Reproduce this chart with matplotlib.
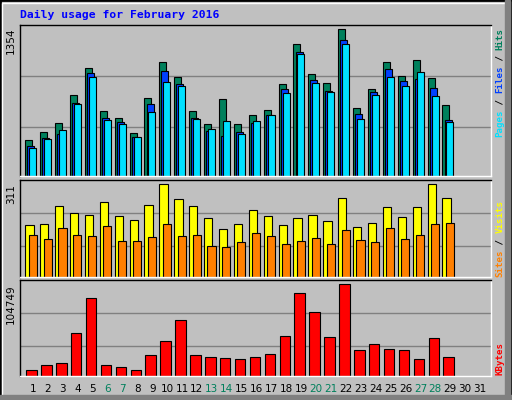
import matplotlib
matplotlib.use("Agg")
import matplotlib.pyplot as plt
from matplotlib.patches import Rectangle
import numpy as np

days = list(range(1, 32))
hits = [333,407,489,747,995,600,535,397,719,1051,913,600,480,710,480,563,609,848,1216,940,857,1354,627,802,1051,922,1069,903,655]
files = [278,351,388,673,949,535,499,361,664,968,848,535,416,370,407,489,563,802,1143,885,784,1253,572,775,986,876,894,811,517]
pages = [259,342,425,664,913,517,480,361,591,867,830,526,434,508,388,508,563,765,1124,857,775,1216,526,747,913,830,959,738,499]
visits = [173,176,237,213,206,250,203,190,243,311,260,237,196,159,176,223,203,173,196,206,186,264,166,180,233,200,233,311,264]
sites = [142,126,163,142,136,169,119,119,132,176,136,139,105,99,116,146,136,109,119,129,109,156,122,116,163,126,142,176,180]
kbytes = [7264,13000,15290,48550,88690,13000,10700,7264,24470,40520,63460,24470,22170,21030,19880,22170,25610,46260,94430,72640,45110,104749,30200,37080,31350,30200,19880,43960,22170]
weekend = [6,7,13,14,20,21,27,28]
max_labels = ["1354", "311", "104749"]

W, H = 512, 400
fig = plt.figure(figsize=(W/100, H/100), dpi=100)
fig.patch.set_facecolor("#C0C0C0")
def fr(x, y): return x / W, 1 - y / H
fig.patches.append(Rectangle((0, 0), 1, 1, transform=fig.transFigure, fill=False, ec="black", lw=2))
fig.patches.append(Rectangle(fr(2, 397), 506/W, 394/H, transform=fig.transFigure, fill=False, ec="white", lw=1))
fig.patches.append(Rectangle((505/W, 0), 5/W, 1, transform=fig.transFigure, color="#808080"))
fig.patches.append(Rectangle((0, 0), 1, 5/H, transform=fig.transFigure, color="#808080"))

fig.text(*fr(20, 15), "Daily usage for February 2016", color="#0000FF", family="DejaVu Sans Mono",
         weight="bold", fontsize=8.2, va="center", ha="left")

x0, x1 = 20, 491
xl = (1 - 13/14.9, 1 + 458/14.9)
d = np.arange(1, len(hits) + 1)

def panel(top, base, vmax, vtop):
    ax = fig.add_axes([x0/W, 1 - base/H, (x1-x0)/W, (base-top)/H])
    ax.set_facecolor("#C0C0C0")
    scale = vmax / (base - vtop)
    ax.set_ylim(0, (base - top) * scale)
    ax.set_xlim(*xl)
    ax.set_xticks([]); ax.set_yticks([])
    for s in ["left", "top"]:
        ax.spines[s].set_color("black")
    for s in ["right", "bottom"]:
        ax.spines[s].set_color("white")
    for s in ax.spines.values(): s.set_linewidth(1)
    return ax

ax1 = panel(25, 176.5, 1354, 29.3)
for yp in [76, 127]:
    ax1.axhline((176.5 - yp) * 1354 / (176.5 - 29.3), color="#808080", lw=1, zorder=0)
ax1.bar(d - 0.52, hits, width=0.47, align="edge", color="#00805C", ec="black", lw=0.8)
ax1.bar(d - 0.38, files, width=0.47, align="edge", color="#0040FF", ec="black", lw=0.8)
ax1.bar(d - 0.25, pages, width=0.47, align="edge", color="#00E0FF", ec="black", lw=0.8)

ax2 = panel(180, 276.7, 311, 184.3)
for yp in [213.3, 246.3]:
    ax2.axhline((276.7 - yp) * 311 / (276.7 - 184.3), color="#808080", lw=1, zorder=0)
ax2.bar(d - 0.52, visits, width=0.56, align="edge", color="#FFFF00", ec="black", lw=0.8)
ax2.bar(d - 0.29, sites, width=0.54, align="edge", color="#FF8000", ec="black", lw=0.8)

ax3 = panel(280, 376, 104749, 284.3)
for yp in [313.3, 346]:
    ax3.axhline((376 - yp) * 104749 / (376 - 284.3), color="#808080", lw=1, zorder=0)
ax3.bar(d - 0.45, kbytes, width=0.7, align="edge", color="#FF0000", ec="black", lw=0.8)

for k in days:
    px = 33 + 14.9 * (k - 1)
    fig.text(*fr(px, 389), str(k), ha="center", va="center", fontsize=7.5,
             color="#00805C" if k in weekend else "black")

for lab, yp in zip(max_labels, [28, 184, 284]):
    fig.text(*fr(11, yp), lab, rotation=90, ha="center", va="top", fontsize=7.5, color="black")

def side(pieces, ybottom, cw=5.45):
    y = ybottom
    for txt, col in pieces:
        fig.text(*fr(500, y), txt, rotation=90, ha="center", va="bottom", family="DejaVu Sans Mono",
                 fontsize=6.6, weight="bold", color=col)
        y -= len(txt) * cw

side([("Pages", "#00E0FF"), (" / ", "black"), ("Files", "#0040FF"), (" / ", "black"), ("Hits", "#00805C")], 137)
side([("Sites", "#FF8000"), (" / ", "black"), ("Visits", "#FFFF00")], 277)
side([("KBytes", "#FF0000")], 375)

fig.savefig("out.png", dpi=100, facecolor=fig.get_facecolor())
